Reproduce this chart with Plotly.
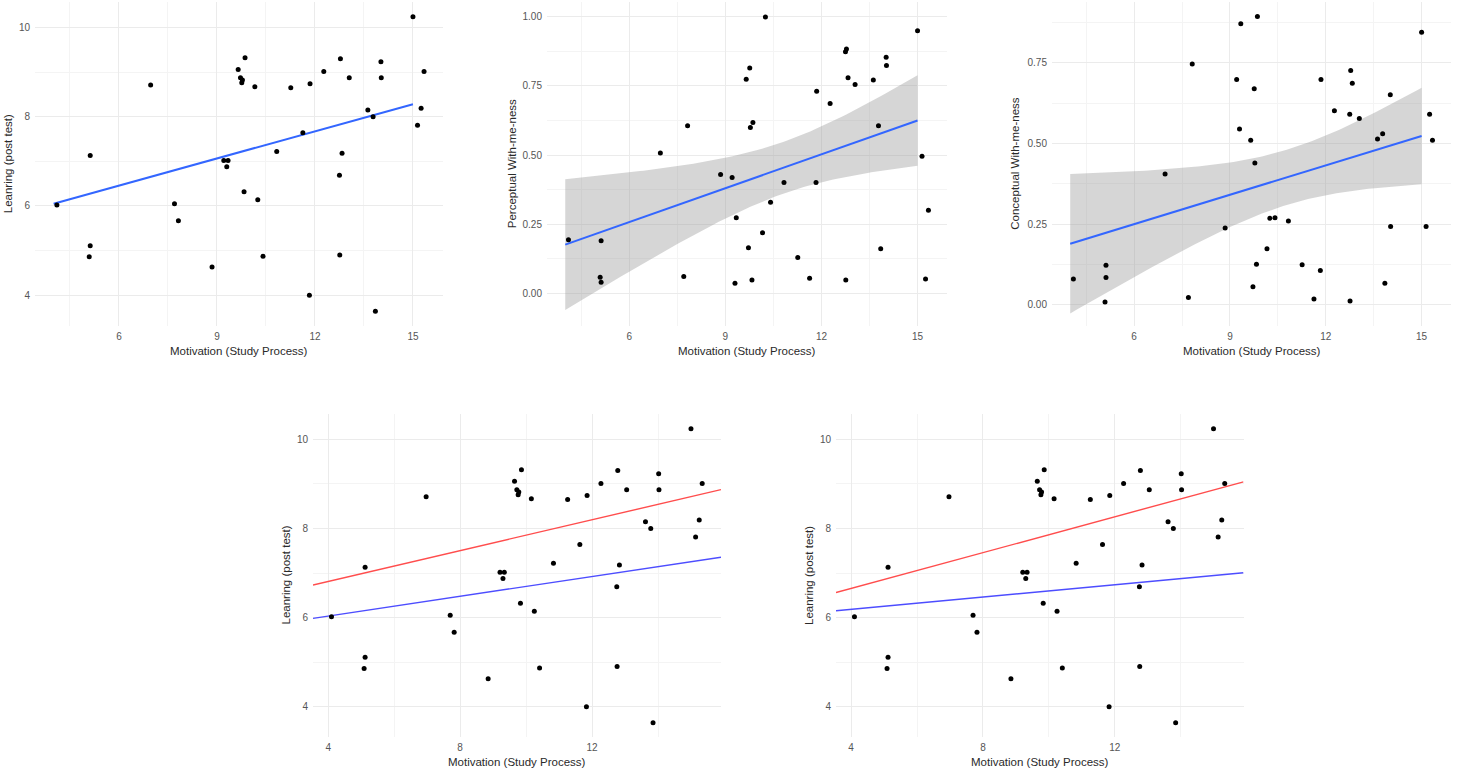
import numpy as np
import plotly.graph_objects as go

# ---------------- data ----------------
motivation = [4.10, 5.12, 5.12, 5.09, 6.97, 7.70, 7.82, 8.85, 9.21, 9.34,
              9.30, 9.65, 9.86, 9.72, 9.78, 9.76, 9.83, 10.16, 10.25, 10.41,
              10.83, 11.26, 11.63, 11.85, 11.83, 12.27, 12.78, 13.05, 12.83, 12.75,
              12.76, 13.62, 13.78, 13.85, 14.02, 14.03, 15.00, 15.25, 15.14, 15.34]
learning = [6.02, 7.13, 5.11, 4.86, 8.71, 6.05, 5.67, 4.63, 7.02, 7.02,
            6.88, 9.06, 9.32, 8.87, 8.82, 8.76, 6.32, 8.67, 6.14, 4.87,
            7.22, 8.65, 7.64, 8.74, 4.00, 9.01, 9.30, 8.87, 7.18, 6.69,
            4.90, 8.15, 8.00, 3.64, 9.23, 8.87, 10.24, 8.19, 7.81, 9.01]
perceptual = [0.193, 0.190, 0.040, 0.058, 0.507, 0.060, 0.606, 0.430, 0.419, 0.273,
              0.036, 0.774, 0.618, 0.164, 0.600, 0.815, 0.048, 0.219, 1.000, 0.329,
              0.401, 0.129, 0.054, 0.731, 0.401, 0.687, 0.884, 0.755, 0.780, 0.874,
              0.048, 0.772, 0.606, 0.161, 0.854, 0.824, 0.950, 0.051, 0.496, 0.300]
conceptual = [0.080, 0.123, 0.085, 0.009, 0.405, 0.023, 0.746, 0.238, 0.698, 0.871,
              0.545, 0.510, 0.893, 0.056, 0.439, 0.669, 0.126, 0.174, 0.268, 0.270,
              0.260, 0.124, 0.018, 0.698, 0.106, 0.601, 0.726, 0.577, 0.686, 0.590,
              0.012, 0.514, 0.530, 0.067, 0.651, 0.243, 0.844, 0.590, 0.243, 0.510]

smooth_range = [4, 15]          # x-range of the fitted smooth (unjittered data range)
learning_fit_ends = [6.05, 8.28]  # learning smooth at x = 4 and x = 15 (read)
t_crit = 2.024                  # t(0.975, df=38)

# straight reference lines of the two bottom panels (intercept, slope)
left_intercepts = [6.12, 5.59]
left_slopes = [0.173, 0.111]
right_intercepts = [5.85, 5.91]
right_slopes = [0.201, 0.069]

x_title = "Motivation (Study Process)"
y_titles = ["Leanring (post test)", "Perceptual With-me-ness", "Conceptual With-me-ness",
            "Leanring (post test)", "Leanring (post test)"]

# ---------------- layout helpers ----------------
W, H = 1459, 772
FONT = "Liberation Sans, Arial, sans-serif"


def xd(a, b):
    return [a / W, b / W]


def yd(top, bottom):
    return [1 - bottom / H, 1 - top / H]


def fit(x, y):
    x = np.asarray(x, float)
    y = np.asarray(y, float)
    n = len(x)
    b, a = np.polyfit(x, y, 1)
    res = y - (a + b * x)
    s = np.sqrt((res ** 2).sum() / (n - 2))
    xbar = x.mean()
    sxx = ((x - xbar) ** 2).sum()
    xs = np.linspace(smooth_range[0], smooth_range[1], 100)
    ys = a + b * xs
    hw = t_crit * s * np.sqrt(1 / n + (xs - xbar) ** 2 / sxx)
    return xs, ys, ys - hw, ys + hw


panels = [
    dict(xdom=xd(35, 443), ydom=yd(2, 325.5), xr=[3.43, 15.92], yr=[3.32, 10.57],
         xt=[6, 9, 12, 15], xm=[4.5, 7.5, 10.5, 13.5], yt=[4, 6, 8, 10], ym=[5, 7, 9], fmt=""),
    dict(xdom=xd(547, 947), ydom=yd(2, 325.5), xr=[3.43, 15.92], yr=[-0.117, 1.054],
         xt=[6, 9, 12, 15], xm=[4.5, 7.5, 10.5, 13.5], yt=[0, 0.25, 0.5, 0.75, 1.0],
         ym=[0.125, 0.375, 0.625, 0.875], fmt=".2f"),
    dict(xdom=xd(1052, 1451), ydom=yd(2, 325.5), xr=[3.43, 15.92], yr=[-0.064, 0.938],
         xt=[6, 9, 12, 15], xm=[4.5, 7.5, 10.5, 13.5], yt=[0, 0.25, 0.5, 0.75],
         ym=[0.125, 0.375, 0.625, 0.875], fmt=".2f"),
    dict(xdom=xd(313, 721), ydom=yd(414, 737), xr=[3.54, 15.91], yr=[3.32, 10.57],
         xt=[4, 8, 12], xm=[6, 10, 14], yt=[4, 6, 8, 10], ym=[5, 7, 9], fmt=""),
    dict(xdom=xd(836, 1243.5), ydom=yd(414, 737), xr=[3.54, 15.91], yr=[3.32, 10.57],
         xt=[4, 8, 12], xm=[6, 10, 14], yt=[4, 6, 8, 10], ym=[5, 7, 9], fmt=""),
]

# axis-title positions (pixels): x-title centre y, y-title centre x
xtitle_y = [351, 351, 351, 762, 762]
ytitle_x = [7.5, 511.5, 1015, 285, 808.5]

fig = go.Figure()
layout = dict(width=W, height=H, margin=dict(l=0, r=0, t=0, b=0),
              paper_bgcolor="white", plot_bgcolor="white", showlegend=False,
              font=dict(family=FONT))
annotations = []

for i, p in enumerate(panels):
    k = "" if i == 0 else str(i + 1)
    xa, ya = "x" + k, "y" + k
    grid_major = "#ebebeb"
    grid_minor = "#f4f4f4"
    layout["xaxis" + k] = dict(
        domain=p["xdom"], range=p["xr"], anchor=ya, tickmode="array", tickvals=p["xt"],
        showgrid=True, gridcolor=grid_major, gridwidth=1, zeroline=False, showline=False,
        ticks="", ticklabelstandoff=3, tickfont=dict(size=10, color="#555555", family=FONT),
        minor=dict(tickvals=p["xm"], showgrid=True, gridcolor=grid_minor, gridwidth=0.7),
    )
    layout["yaxis" + k] = dict(
        domain=p["ydom"], range=p["yr"], anchor=xa, tickmode="array", tickvals=p["yt"],
        tickformat=p["fmt"], showgrid=True, gridcolor=grid_major, gridwidth=1,
        zeroline=False, showline=False, ticks="", ticklabelstandoff=4,
        tickfont=dict(size=10, color="#555555", family=FONT),
        minor=dict(tickvals=p["ym"], showgrid=True, gridcolor=grid_minor, gridwidth=0.7),
    )
    cx = (p["xdom"][0] + p["xdom"][1]) / 2
    cy = (p["ydom"][0] + p["ydom"][1]) / 2
    annotations.append(dict(text=x_title, x=cx, y=1 - xtitle_y[i] / H, xref="paper", yref="paper",
                            xanchor="center", yanchor="middle", showarrow=False,
                            font=dict(size=11.5, color="#2a2a2a", family=FONT)))
    annotations.append(dict(text=y_titles[i], x=ytitle_x[i] / W, y=cy, xref="paper", yref="paper",
                            xanchor="center", yanchor="middle", showarrow=False, textangle=-90,
                            font=dict(size=11.5, color="#2a2a2a", family=FONT)))

    yvals = [learning, perceptual, conceptual, learning, learning][i]

    if i in (1, 2):
        xs, ys, lo, hi = fit(motivation, yvals)
        fig.add_trace(go.Scatter(x=np.concatenate([xs, xs[::-1]]), y=np.concatenate([hi, lo[::-1]]),
                                 fill="toself", fillcolor="rgba(153,153,153,0.4)",
                                 line=dict(width=0), mode="lines", hoverinfo="skip",
                                 xaxis=xa, yaxis=ya))
        fig.add_trace(go.Scatter(x=xs, y=ys, mode="lines", line=dict(color="#3366FF", width=2),
                                 xaxis=xa, yaxis=ya))
    if i == 0:
        fig.add_trace(go.Scatter(x=smooth_range, y=learning_fit_ends, mode="lines",
                                 line=dict(color="#3366FF", width=2), xaxis=xa, yaxis=ya))
    if i in (3, 4):
        ints = left_intercepts if i == 3 else right_intercepts
        slps = left_slopes if i == 3 else right_slopes
        for a, b, col in zip(ints, slps, ["#ff4d4d", "#4d4dff"]):
            xx = np.array(p["xr"])
            fig.add_trace(go.Scatter(x=xx, y=a + b * xx, mode="lines",
                                     line=dict(color=col, width=1.4), xaxis=xa, yaxis=ya))

    fig.add_trace(go.Scatter(x=motivation, y=yvals, mode="markers",
                             marker=dict(color="black", size=5), xaxis=xa, yaxis=ya))

layout["annotations"] = annotations
fig.update_layout(**layout)
fig.write_html("out.html", config={"displayModeBar": False},
               post_script="document.body.style.margin='0px';document.body.style.overflow='hidden';")
